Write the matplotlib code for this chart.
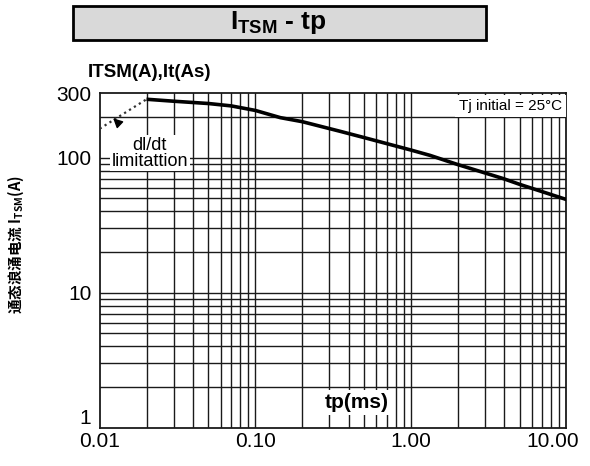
import matplotlib
matplotlib.use("Agg")
import matplotlib.pyplot as plt
import matplotlib.transforms as mtrans
import numpy as np
from matplotlib.patches import Rectangle

# curve
tp_ms = [0.02, 0.03, 0.05, 0.07, 0.1, 0.145, 0.2, 0.35, 0.5, 1.0, 1.33, 2.0, 3.93, 5.0, 10.0]
itsm_a = [271, 262, 252, 242, 224, 198, 185, 157, 141, 114, 104, 89, 70, 63.5, 49]

# dI/dt limitation (dotted)
lim_tp = [0.01, 0.02]
lim_a = [164, 271]

x_ticks = [0.01, 0.1, 1.0, 10.0]
x_labels = ["0.01", "0.10", "1.00", "10.00"]
y_ticks = [1, 10, 100, 300]
y_labels = ["1", "10", "100", "300"]

plt.rcParams['font.family'] = ["Liberation Sans", "DejaVu Sans"]

fig = plt.figure(figsize=(5.9, 4.66), dpi=100)
ax = fig.add_axes([0.169, 0.0822, 0.791, 0.7176])
ax.set_xscale('log')
ax.set_yscale('log')
ax.set_xlim(0.01, 10)
ax.set_ylim(1, 300)

# grid by hand: minor lines 1..9 per decade
gc = '#1a1a1a'
for dec in [0.01, 0.1, 1.0]:
	for k in range(2, 10):
		ax.axvline(dec * k, color=gc, lw=1.0, zorder=1)
ax.axvline(0.1, color=gc, lw=1.0, zorder=1)
ax.axvline(1.0, color=gc, lw=1.0, zorder=1)
for dec in [1, 10]:
	for k in range(2, 10):
		ax.axhline(dec * k, color=gc, lw=1.0, zorder=1)
ax.axhline(10, color=gc, lw=1.0, zorder=1)
ax.axhline(100, color=gc, lw=1.0, zorder=1)
ax.axhline(200, color=gc, lw=1.0, zorder=1)

for s in ax.spines.values():
	s.set_linewidth(1.3)
	s.set_color(gc)

ax.plot(tp_ms, itsm_a, color='black', lw=2.6, zorder=5, solid_capstyle='butt')
ax.plot(lim_tp, lim_a, color='#333333', lw=1.6, ls=(0, (1, 1.6)), zorder=5)

ax.set_xticks(x_ticks)
ax.set_xticklabels(x_labels)
ax.set_yticks(y_ticks)
ax.set_yticklabels(y_labels)
ax.minorticks_off()
ax.tick_params(length=0, labelsize=15)
ax.tick_params(axis='x', pad=3)
ax.tick_params(axis='y', pad=6)
ylabs = ax.get_yticklabels()
ylabs[0].set_verticalalignment('bottom')
xlabs = ax.get_xticklabels()
xlabs[-1].set_horizontalalignment('right')
xlabs[-1].set_transform(xlabs[-1].get_transform() + mtrans.ScaledTranslation(13 / 100, 0, fig.dpi_scale_trans))

# annotations
ax.annotate("dl/dt\nlimitattion", xy=(0.0122, 196), xytext=(0.021, 108),
	ha='center', va='center', fontsize=13, linespacing=0.9, zorder=6,
	bbox=dict(boxstyle='square,pad=0.1', fc='white', ec='none'),
	arrowprops=dict(arrowstyle='-|>', color='black', lw=1.0, mutation_scale=14, shrinkA=12, shrinkB=0))

ax.text(0.99, 0.962, "Tj initial = 25\u00b0C", transform=ax.transAxes, ha='right', va='center',
	fontsize=11, zorder=6, bbox=dict(boxstyle='square,pad=0.25', fc='white', ec='none'))

ax.text(0.55, 0.075, "tp(ms)", transform=ax.transAxes, ha='center', va='center',
	fontsize=15, fontweight='bold', zorder=6,
	bbox=dict(boxstyle='square,pad=0.15', fc='white', ec='none'))

fig.text(0.149, 0.845, "ITSM(A),It(As)", ha='left', va='center', fontsize=13.5, fontweight='bold')

# title box
fig.patches.append(Rectangle((0.123, 0.915), 0.700, 0.073, transform=fig.transFigure,
	fc='#d9d9d9', ec='black', lw=2.0))
fig.text(0.472, 0.951, r"I$_{\mathregular{TSM}}$ - tp", ha='center', va='center',
	fontsize=19, fontweight='bold')

# y label
fig.text(0.027, 0.475, r"通态浪涌电流 I$_{\mathregular{TSM}}$(A)", rotation=90, ha='center', va='center',
	fontsize=10.5, fontweight='bold', family=['Noto Sans CJK SC', 'DejaVu Sans'])

fig.savefig("out.png", dpi=100)
